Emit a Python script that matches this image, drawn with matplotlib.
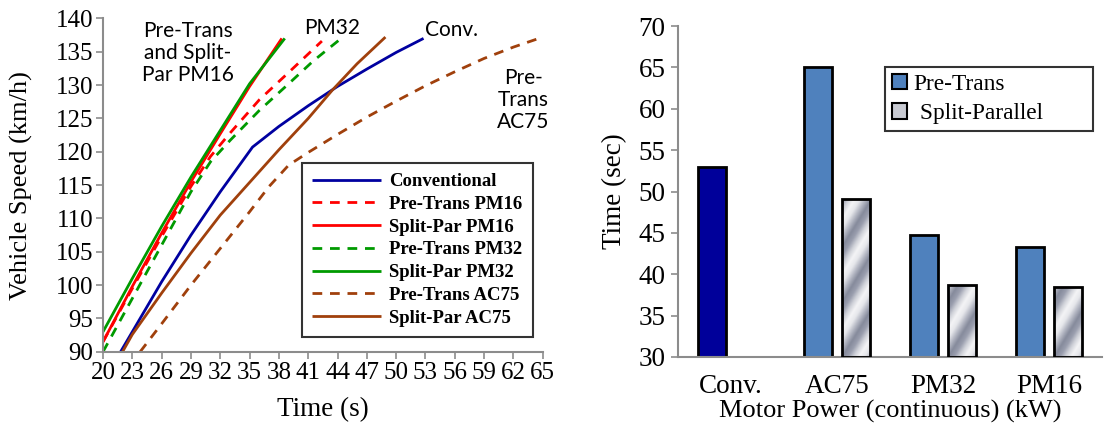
"""Acceleration curves (left) and 0-137 km/h times (right) for the drivetrain variants."""

import matplotlib
matplotlib.use("Agg")
import matplotlib.pyplot as plt
import numpy as np
from matplotlib.patches import Patch

# ---- left panel: speed vs time curves ----
conv_t = [21.8, 23, 26, 29, 32, 35.3, 38, 41, 44, 47, 50, 52.8]
conv_v = [90, 93, 100.5, 107.5, 114, 120.7, 123.8, 126.9, 129.8, 132.4, 134.9, 137]

pt16_t = [20, 23, 26, 29, 31, 33, 36, 39, 42.4]
pt16_v = [91.5, 99.5, 107.3, 114.8, 119.3, 122.8, 127.8, 131.9, 136.6]

sp16_t = [20, 23, 26, 29, 32, 35, 38.3]
sp16_v = [91.5, 99.8, 107.8, 115.5, 122.7, 129.8, 137]

pt32_t = [20, 23, 26, 29, 31, 33, 36, 39, 41.5, 44.2]
pt32_v = [90, 98, 106, 114, 118.5, 121.7, 126.2, 130.2, 133.6, 136.8]

sp32_t = [20, 23, 26, 29, 32, 35, 38.6]
sp32_v = [93, 101, 108.8, 116.2, 123.2, 130.2, 137]

pt75_t = [23.8, 26, 29, 32, 35, 37, 39, 41, 44, 47, 50, 53, 56, 59, 62, 65]
pt75_v = [90, 94.2, 100, 105.5, 111, 114.8, 118, 119.9, 122.6, 125.2, 127.6, 129.9, 132, 134, 135.7, 137.2]

sp75_t = [22, 23, 26, 29, 32, 35, 38, 41, 43.5, 46, 48.9]
sp75_v = [90, 92.6, 98.8, 104.8, 110.5, 115.4, 120.3, 125, 129.3, 133.2, 137.2]

x_ticks = list(range(20, 66, 3))
y_ticks = list(range(90, 141, 5))

# ---- right panel: time to speed ----
categories = ["Conv.", "AC75", "PM32", "PM16"]
pre_trans = [53.0, 65.1, 44.7, 43.3]
split_par = [None, 49.1, 38.7, 38.4]

SERIF = "Liberation Serif"
SANS = "Lato"
GRAY = "#8c8c8c"

BLUE = "#0000A0"
RED = "#FF0000"
GREEN = "#009A00"
BROWN = "#A0400C"

fig = plt.figure(figsize=(11.05, 4.28), dpi=100)
plt.rcParams["font.family"] = SERIF

# ---------------- left ----------------
ax = fig.add_axes([0.0932, 0.178, 0.398, 0.779])
dash = (3.5, 2.8)
lw = 2.0
curves = [
    (conv_t, conv_v, BLUE, "-", "Conventional"),
    (pt16_t, pt16_v, RED, "--", "Pre-Trans PM16"),
    (sp16_t, sp16_v, RED, "-", "Split-Par PM16"),
    (pt32_t, pt32_v, GREEN, "--", "Pre-Trans PM32"),
    (sp32_t, sp32_v, GREEN, "-", "Split-Par PM32"),
    (pt75_t, pt75_v, BROWN, "--", "Pre-Trans AC75"),
    (sp75_t, sp75_v, BROWN, "-", "Split-Par AC75"),
]
for t, v, c, ls, lab in curves:
    line, = ax.plot(t, v, color=c, lw=lw, label=lab, solid_capstyle="butt")
    if ls == "--":
        line.set_dashes(dash)

ax.set_xlim(20, 65)
ax.set_ylim(90, 140)
ax.set_xticks(x_ticks)
ax.set_yticks(y_ticks)
ax.tick_params(labelsize=18, color=GRAY, length=5, width=1.2, direction="out", pad=2)
for s in ("top", "right"):
    ax.spines[s].set_visible(False)
for s in ("left", "bottom"):
    ax.spines[s].set_color(GRAY)
    ax.spines[s].set_linewidth(1.5)
ax.set_xlabel("Time (s)", fontsize=19.5, labelpad=10)
ax.set_ylabel("Vehicle Speed (km/h)", fontsize=19)
ax.yaxis.set_label_coords(-0.16, 0.5)

leg = ax.legend(loc="upper left", bbox_to_anchor=(0.452, 0.567),
                prop={"family": SERIF, "weight": "bold", "size": 13.5},
                frameon=True, fancybox=False, handlelength=3.7, handletextpad=0.4,
                borderpad=0.55, labelspacing=0.3, borderaxespad=0)
leg.get_frame().set_edgecolor("black")
leg.get_frame().set_linewidth(1.5)

ann = dict(family=SANS, fontsize=15, ha="center", va="center", linespacing=1.12)
ax.text(28.7, 134.8, "Pre-Trans\nand Split-\nPar PM16", **ann)
ax.text(43.4, 138.6, "PM32", **ann)
ax.text(55.7, 138.3, "Conv.", **ann)
ax.text(63.0, 127.8, "Pre-\nTrans\nAC75", **ann)

# ---------------- right ----------------
bx = fig.add_axes([0.6136, 0.166, 0.384, 0.773])
x = np.arange(len(categories))
w = 0.265
off = 0.18
pre_colors = ["#00009A"] + ["#4F81BD"] * (len(categories) - 1)
bx.bar(x - off, [p - 30 for p in pre_trans], w, bottom=30, color=pre_colors,
       edgecolor="black", linewidth=2, zorder=2)

sp_x = [xi + off for xi, s in zip(x, split_par) if s is not None]
sp_h = [s for s in split_par if s is not None]
sp_bars = bx.bar(sp_x, [h - 30 for h in sp_h], w, bottom=30, color="#c8cad2",
                 edgecolor="black", linewidth=2, zorder=3)

bx.set_xlim(-0.5, 3.5)
bx.set_ylim(30, 70)
bx.set_yticks(range(30, 71, 5))
bx.set_xticks(x)
bx.set_xticklabels(categories)

# metallic diagonal gradient inside the split-parallel bars
cmap = matplotlib.colors.LinearSegmentedColormap.from_list(
    "metal", ["#868b9c", "#b4b7c3", "#e6e7eb", "#f4f4f6", "#d0d2d9", "#9a9eae", "#868b9c"])
px_per_x = 425 / 4.0
px_per_y = 331 / 40.0
for b in sp_bars:
    x0, y0 = b.get_x(), b.get_y()
    bw, bh = b.get_width(), b.get_height()
    nx, ny = int(bw * px_per_x), int(bh * px_per_y)
    gx, gy = np.meshgrid(np.arange(nx), np.arange(ny)[::-1])
    phase = ((gy - 1.7 * gx) / 55.0) % 1.0
    im = bx.imshow(phase, cmap=cmap, extent=[x0, x0 + bw, y0, y0 + bh],
                   aspect="auto", zorder=2.5, interpolation="bilinear")
    im.set_clip_path(b)
    b.set_facecolor("none")
bx.set_xlim(-0.5, 3.5)
bx.set_ylim(30, 70)

bx.tick_params(axis="y", labelsize=19.5, color=GRAY, length=5, width=1.2, pad=4)
bx.tick_params(axis="x", labelsize=19.5, length=0, pad=12)
for s in ("top", "right"):
    bx.spines[s].set_visible(False)
for s in ("left", "bottom"):
    bx.spines[s].set_color(GRAY)
    bx.spines[s].set_linewidth(1.5)
bx.set_ylabel("Time (sec)", fontsize=19.5, labelpad=8)
bx.set_xlabel("Motor Power (continuous) (kW)", fontsize=19, labelpad=1)

handles = [Patch(facecolor="#4F81BD", edgecolor="black", linewidth=1.5, label="Pre-Trans"),
           Patch(facecolor="#c8cad2", edgecolor="black", linewidth=1.5, label=" Split-Parallel")]
leg2 = bx.legend(handles=handles, loc="upper left", bbox_to_anchor=(0.487, 0.777, 0.49, 0.1),
                 mode="expand",
                 prop={"family": SERIF, "size": 16.8}, frameon=True, fancybox=False,
                 handlelength=0.65, handleheight=0.65, handletextpad=0.3,
                 borderpad=0.3, labelspacing=0.35, borderaxespad=0)
leg2.get_frame().set_edgecolor("black")
leg2.get_frame().set_linewidth(1.5)

fig.savefig("out.png", dpi=100)
